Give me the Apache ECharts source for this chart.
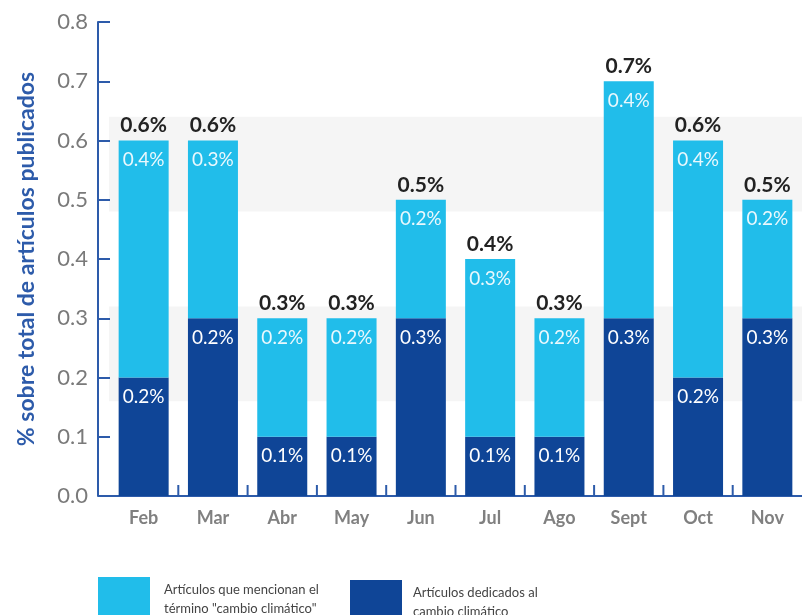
<!DOCTYPE html>
<html>
<head>
<meta charset="utf-8">
<script src="https://cdn.jsdelivr.net/npm/echarts@6/dist/echarts.min.js"></script>
<style>html,body{margin:0;padding:0;background:#fff}#c{width:802px;height:615px}</style>
</head>
<body>
<div id="c"></div>
<script>
const categories = ['Feb','Mar','Abr','May','Jun','Jul','Ago','Sept','Oct','Nov'];
// bar heights (stacked)
const dedicatedValues = [0.2,0.3,0.1,0.1,0.3,0.1,0.1,0.3,0.2,0.3];
const mentionValues   = [0.4,0.3,0.2,0.2,0.2,0.3,0.2,0.4,0.4,0.2];
// printed labels
const dedicatedLabels = ['0.2%','0.2%','0.1%','0.1%','0.3%','0.1%','0.1%','0.3%','0.2%','0.3%'];
const mentionLabels   = ['0.4%','0.3%','0.2%','0.2%','0.2%','0.3%','0.2%','0.4%','0.4%','0.2%'];
const totalValues     = [0.6,0.6,0.3,0.3,0.5,0.4,0.3,0.7,0.6,0.5];
const totalLabels     = ['0.6%','0.6%','0.3%','0.3%','0.5%','0.4%','0.3%','0.7%','0.6%','0.5%'];
const seriesNames = ['Artículos que mencionan el\ntérmino "cambio climático"', 'Artículos dedicados al\ncambio climático'];
// categories whose left boundary carries a small separator tick
const boundaryTicks = [1,2,3,4,5,6,7,8,9];

const LIGHT = '#21BDEA';
const DARK = '#0F4597';
const AXIS = '#2D5BAA';
const FONT = 'Lato';

const chart = echarts.init(document.getElementById('c'));
chart.setOption({
  animation: false,
  textStyle: { fontFamily: FONT },
  grid: { left: 109, top: 22, width: 700, height: 474 },
  legend: [
    { data: [seriesNames[0]], left: 98, top: 577, padding: 0, itemWidth: 52, itemHeight: 44, icon: 'rect',
      textStyle: { fontFamily: FONT, fontSize: 13, lineHeight: 19, color: '#444', padding: [0,0,0,9] } },
    { data: [seriesNames[1]], left: 350, top: 580, padding: 0, itemWidth: 52, itemHeight: 44, icon: 'rect',
      textStyle: { fontFamily: FONT, fontSize: 13, lineHeight: 19, color: '#444', padding: [0,0,0,6] } }
  ],
  xAxis: {
    type: 'category',
    data: categories,
    axisLine: { show: true, onZero: false, lineStyle: { color: AXIS, width: 2 } },
    axisTick: { show: false },
    axisLabel: { color: '#808080', fontSize: 18, fontWeight: 'bold', margin: 13, fontFamily: FONT }
  },
  yAxis: [
    {
      type: 'value', min: 0, max: 0.8, interval: 0.1, offset: 11,
      name: '% sobre total de artículos publicados',
      nameLocation: 'middle', nameGap: 60,
      nameTextStyle: { color: AXIS, fontSize: 23, fontWeight: 'bold', fontFamily: FONT },
      axisLine: { show: true, onZero: false, lineStyle: { color: AXIS, width: 2 } },
      axisTick: { show: true, inside: true, length: 12, lineStyle: { color: AXIS, width: 2 } },
      axisLabel: { color: '#7a7a7a', fontSize: 22, margin: 10, fontFamily: FONT, formatter: v => v.toFixed(1) },
      splitLine: { show: false }
    },
    {
      type: 'value', min: 0, max: 0.8, interval: 0.16, position: 'right',
      axisLine: { show: false, onZero: false }, axisTick: { show: false }, axisLabel: { show: false },
      splitLine: { show: false },
      splitArea: { show: true, areaStyle: { color: ['rgba(255,255,255,0)', '#f5f5f5'] } }
    }
  ],
  series: [
    {
      name: seriesNames[1], type: 'bar', stack: 's', data: dedicatedValues, barWidth: 50,
      itemStyle: { color: DARK },
      label: { show: true, position: 'insideTop', distance: 10, color: '#ffffff', fontSize: 19, fontFamily: FONT,
        formatter: p => dedicatedLabels[p.dataIndex] }
    },
    {
      name: seriesNames[0], type: 'bar', stack: 's', data: mentionValues, barWidth: 50,
      itemStyle: { color: LIGHT },
      label: { show: true, position: 'insideTop', distance: 10, color: '#eaf8fd', fontSize: 19, fontFamily: FONT,
        formatter: p => mentionLabels[p.dataIndex] }
    },
    {
      name: 'total', type: 'line', data: totalValues, symbol: 'circle', symbolSize: 1,
      itemStyle: { color: 'rgba(0,0,0,0)' }, lineStyle: { opacity: 0 },
      silent: true, z: 5,
      label: { show: true, position: 'top', distance: 4, color: '#222', fontSize: 21, fontWeight: 'bold', fontFamily: FONT,
        formatter: p => totalLabels[p.dataIndex] }
    },
    {
      name: 'ticks', type: 'custom', silent: true, z: 10,
      data: boundaryTicks.map(i => [i, 0]),
      encode: { x: 0, y: 1 },
      renderItem: (params, api) => {
        const p = api.coord([api.value(0), api.value(1)]);
        const w = api.size([1, 0])[0];
        const x = p[0] - w / 2;
        return { type: 'line', shape: { x1: x, y1: p[1], x2: x, y2: p[1] - 11 },
                 style: { stroke: AXIS, lineWidth: 2 } };
      }
    }
  ]
});
</script>
</body>
</html>
